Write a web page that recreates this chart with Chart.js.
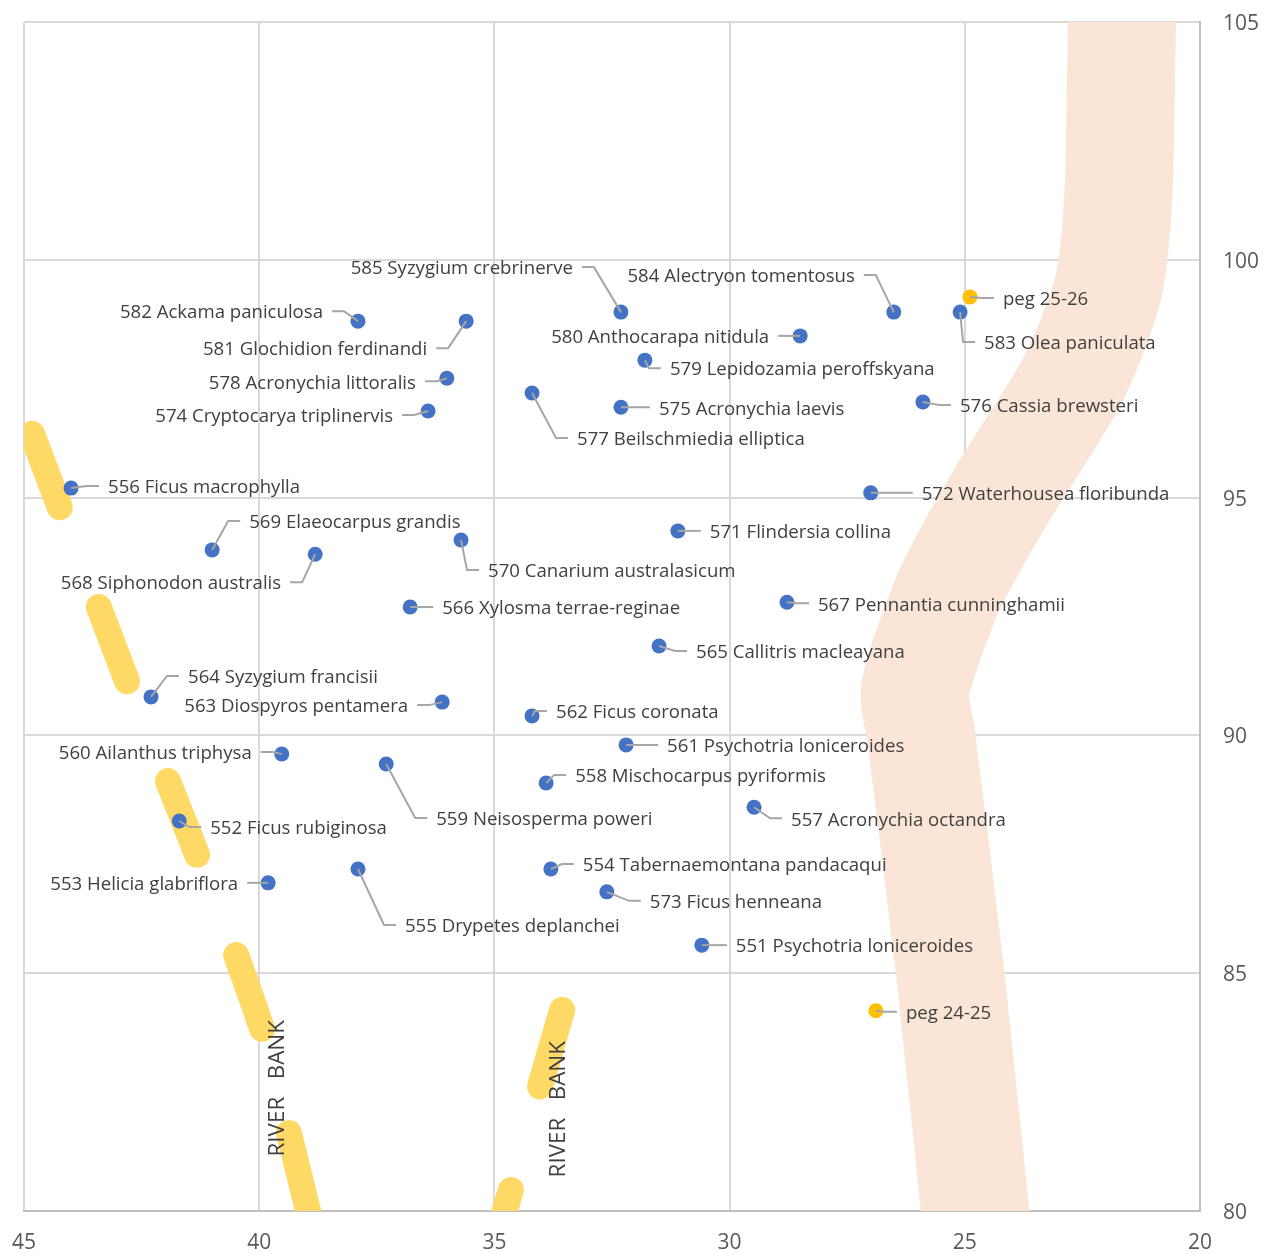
<!DOCTYPE html>
<html>
<head>
<meta charset="utf-8">
<title>Pegs along the river</title>
<script src="https://cdn.jsdelivr.net/npm/chart.js@4/dist/chart.umd.js"></script>
<style>
  html, body { margin: 0; padding: 0; background: #fff; }
  #wrap { width: 1271px; height: 1254px; }
</style>
</head>
<body>
<div id="wrap"><canvas id="chart" role="img" aria-label="Tree positions between river banks"></canvas></div>
<script>
const treeNames = [
  '551 Psychotria loniceroides', '552 Ficus rubiginosa', '553 Helicia glabriflora', '554 Tabernaemontana pandacaqui',
  '555 Drypetes deplanchei', '556 Ficus macrophylla', '557 Acronychia octandra', '558 Mischocarpus pyriformis',
  '559 Neisosperma poweri', '560 Ailanthus triphysa', '561 Psychotria loniceroides', '562 Ficus coronata',
  '563 Diospyros pentamera', '564 Syzygium francisii', '565 Callitris macleayana', '566 Xylosma terrae-reginae',
  '567 Pennantia cunninghamii', '568 Siphonodon australis', '569 Elaeocarpus grandis', '570 Canarium australasicum',
  '571 Flindersia collina', '572 Waterhousea floribunda', '573 Ficus henneana', '574 Cryptocarya triplinervis',
  '575 Acronychia laevis', '576 Cassia brewsteri', '577 Beilschmiedia elliptica', '578 Acronychia littoralis',
  '579 Lepidozamia peroffskyana', '580 Anthocarapa nitidula', '581 Glochidion ferdinandi', '582 Ackama paniculosa',
  '583 Olea paniculata', '584 Alectryon tomentosus', '585 Syzygium crebrinerve'
];
const treeX = [
  30.59, 41.70, 39.81, 33.80, 37.90, 44.00, 29.48, 33.90, 37.30, 39.52, 32.20, 34.20,
  36.11, 42.30, 31.50, 36.79, 28.78, 38.81, 41.00, 35.71, 31.10, 27.00, 32.61, 36.41,
  32.31, 25.89, 34.20, 36.01, 31.80, 28.50, 35.60, 37.90, 25.10, 26.51, 32.31
];
const treeY = [
  85.59, 88.20, 86.90, 87.19, 87.19, 95.20, 88.49, 89.00, 89.40, 89.61, 89.80, 90.41,
  90.70, 90.81, 91.88, 92.70, 92.80, 93.81, 93.90, 94.11, 94.30, 95.10, 86.71, 96.82,
  96.90, 97.01, 97.20, 97.51, 97.89, 98.40, 98.71, 98.71, 98.90, 98.90, 98.90
];

const pegNames = ['peg 25-26', 'peg 24-25'];
const pegX = [24.89, 26.89];
const pegY = [99.22, 84.21];

const riverX = [21.64, 21.66, 21.74, 21.96, 22.70, 24.19, 25.00, 25.42, 26.06, 25.93, 25.31, 24.78, 24.70];
const riverY = [106, 105, 101.26, 99.37, 97.48, 95.10, 93.69, 92.85, 90.95, 90.01, 85.00, 80.00, 79.40];

// river bank pieces, x and y lists per piece
const bankX = [
  [44.83, 44.24],
  [43.41, 42.81],
  [41.94, 41.32],
  [40.49, 40.15, 39.94],
  [39.37, 38.96, 38.84],
  [33.56, 34.03],
  [34.65, 34.78, 34.90]
];
const bankY = [
  [96.34, 94.80],
  [92.70, 91.14],
  [89.04, 87.49],
  [85.38, 84.44, 83.83],
  [81.64, 80.00, 79.50],
  [84.23, 82.62],
  [80.44, 80.00, 79.50]
];

const bankLabel = 'RIVER   BANK';
const bankLabelX = [39.60, 33.63];
const bankLabelY = [82.58, 82.14];

const xTicks = [45, 40, 35, 30, 25, 20];
const yTicks = [105, 100, 95, 90, 85, 80];

// label placement in pixels from the point: offset of the near text edge, then vertical offset
const treeLabelDx = [
  34, 31, -30, 32, 47, 37, 37, 29, 50, -30, 41, 24,
  -34, 37, 37, 32, 31, -34, 37, 27, 32, 51, 43, -35,
  38, 37, 45, -31, 25, -31, -39, -35, 24, -39, -48
];
const treeLabelDy = [
  0, 6, 0, -5, 56, -2, 11, -8, 54, -2, 0, -5,
  3, -21, 5, 0, 1, 28, -29, 30, 0, 0, 9, 4,
  0, 3, 45, 3, 8, 0, 27, -10, 30, -37, -45
];
const pegLabelDx = [33, 30];
const pegLabelDy = [1, 1];

const toPoints = (xs, ys) => xs.map((x, i) => ({ x, y: ys[i] }));

const labelFont = '18.6px "Open Sans"';

const drawLabel = (ctx, px, py, text, dx, dy) => {
  const dir = dx < 0 ? -1 : 1;
  const edge = px + dx;
  const endX = edge - dir * 9;
  let elbowX = endX - dir * 12;
  if ((elbowX - px) * dir < 0) elbowX = px;
  const lineY = py + dy;

  ctx.strokeStyle = '#A6A6A6';
  ctx.lineWidth = 2;
  ctx.beginPath();
  ctx.moveTo(px, py);
  ctx.lineTo(elbowX, lineY);
  ctx.lineTo(endX, lineY);
  ctx.stroke();

  ctx.fillStyle = '#404040';
  ctx.font = labelFont;
  ctx.textBaseline = 'middle';
  ctx.textAlign = dir < 0 ? 'right' : 'left';
  ctx.fillText(text, edge, lineY + 2);
};

const pointLabels = {
  id: 'pointLabels',
  afterDatasetsDraw(chart) {
    const { ctx, scales } = chart;
    ctx.save();
    treeNames.forEach((name, i) => {
      drawLabel(ctx, scales.x.getPixelForValue(treeX[i]), scales.y.getPixelForValue(treeY[i]), name, treeLabelDx[i], treeLabelDy[i]);
    });
    pegNames.forEach((name, i) => {
      drawLabel(ctx, scales.x.getPixelForValue(pegX[i]), scales.y.getPixelForValue(pegY[i]), name, pegLabelDx[i], pegLabelDy[i]);
    });
    bankLabelX.forEach((x, i) => {
      ctx.save();
      ctx.translate(scales.x.getPixelForValue(x), scales.y.getPixelForValue(bankLabelY[i]));
      ctx.rotate(-Math.PI / 2);
      ctx.fillStyle = '#404040';
      ctx.font = '22.4px "Open Sans"';
      ctx.textAlign = 'center';
      ctx.textBaseline = 'middle';
      ctx.fillText(bankLabel, 0, 0);
      ctx.restore();
    });
    ctx.restore();
  }
};

// lower order is painted on top
const datasets = [
  {
    label: 'River',
    order: 3,
    data: toPoints(riverX, riverY),
    showLine: true,
    borderColor: '#FBE5D6',
    borderWidth: 108,
    borderJoinStyle: 'round',
    tension: 0.25,
    pointRadius: 0,
    clip: 0
  }
];

bankX.forEach((xs, i) => {
  datasets.push({
    label: 'River bank ' + (i + 1),
    order: 2,
    data: toPoints(xs, bankY[i]),
    showLine: true,
    borderColor: '#FFD966',
    borderWidth: 26,
    borderCapStyle: 'round',
    borderJoinStyle: 'round',
    pointRadius: 0,
    clip: 0
  });
});

datasets.push({
  label: 'Trees',
  order: 1,
  data: toPoints(treeX, treeY),
  backgroundColor: '#4472C4',
  borderWidth: 0,
  pointRadius: 7.5
});
datasets.push({
  label: 'Pegs',
  order: 0,
  data: toPoints(pegX, pegY),
  backgroundColor: '#FFC000',
  borderWidth: 0,
  pointRadius: 7.5
});

new Chart(document.getElementById('chart'), {
  type: 'scatter',
  data: { datasets },
  options: {
    responsive: true,
    maintainAspectRatio: false,
    animation: false,
    layout: { padding: { left: 24, top: 22, right: 0, bottom: 0 } },
    plugins: { legend: { display: false }, tooltip: { enabled: false } },
    scales: {
      x: {
        type: 'linear',
        reverse: true,
        min: 20,
        max: 45,
        afterBuildTicks: axis => { axis.ticks = xTicks.map(value => ({ value })); },
        afterFit: axis => {
          axis.height = 43;
          axis.paddingLeft = 0;
          axis.paddingRight = 0;
        },
        ticks: { color: '#595959', font: { family: 'Open Sans', size: 21 }, padding: 19, maxRotation: 0, autoSkip: false },
        grid: { color: '#D9D9D9', lineWidth: 2, drawTicks: false },
        border: { color: '#BFBFBF', width: 2 }
      },
      y: {
        type: 'linear',
        position: 'right',
        min: 80,
        max: 105,
        afterBuildTicks: axis => { axis.ticks = yTicks.map(value => ({ value })); },
        afterFit: axis => {
          axis.width = 71;
          axis.paddingTop = 0;
          axis.paddingBottom = 0;
        },
        ticks: { color: '#595959', font: { family: 'Open Sans', size: 21 }, padding: 23, labelOffset: 2, autoSkip: false },
        grid: { color: '#D9D9D9', lineWidth: 2, drawTicks: false },
        border: { color: '#BFBFBF', width: 2 }
      }
    }
  },
  plugins: [pointLabels]
});
</script>
</body>
</html>
